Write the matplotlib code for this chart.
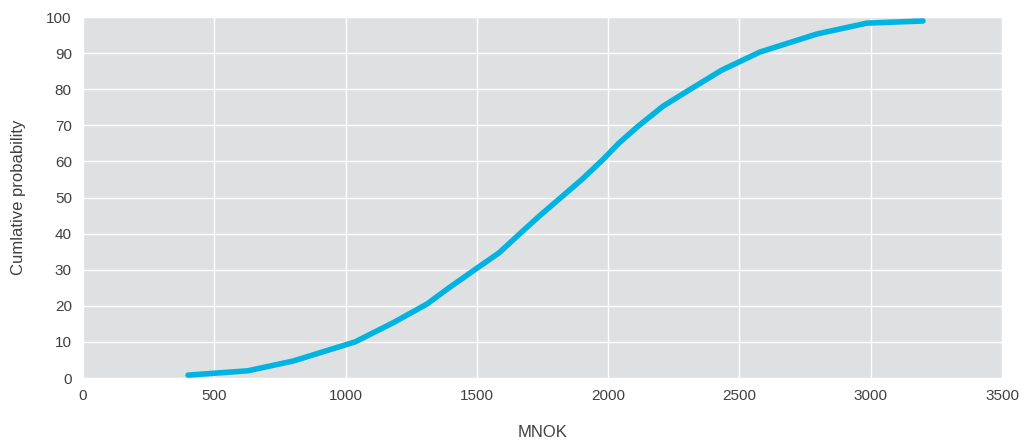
import matplotlib
matplotlib.use("Agg")
import matplotlib.pyplot as plt

# cumulative probability curve
mnok = [400, 628, 800, 1036, 1181, 1310, 1398, 1500, 1585, 1664, 1740, 1820, 1900, 1980, 2040, 2110, 2209, 2320, 2433, 2578, 2795, 2985, 3199]
prob = [0.8, 2, 4.7, 10, 15.3, 20.5, 25.2, 30.4, 34.7, 40, 45, 50, 55, 60.5, 65, 69.5, 75.3, 80.3, 85.3, 90.3, 95.3, 98.3, 98.9]
xticks = [0, 500, 1000, 1500, 2000, 2500, 3000, 3500]
yticks = [0, 10, 20, 30, 40, 50, 60, 70, 80, 90, 100]

plt.rcParams['font.family'] = ['Liberation Sans', 'DejaVu Sans']

fig = plt.figure(figsize=(10.27, 4.43), dpi=100)
ax = fig.add_axes([0.0808, 0.1467, 0.8949, 0.8149])
ax.set_facecolor('#dfe0e2')
ax.plot(mnok, prob, color='#00b4e1', linewidth=4, solid_capstyle='round', zorder=3)

ax.set_xlim(0, 3500)
ax.set_ylim(0, 100)
ax.set_xticks(xticks)
ax.set_yticks(yticks)
ax.grid(True, color='white', linewidth=1)
ax.set_axisbelow(True)
for s in ax.spines.values():
    s.set_visible(False)
ax.tick_params(length=0, labelsize=11, labelcolor='#404040', pad=8)

ax.set_xlabel('MNOK', fontsize=12, color='#404040', va='center')
ax.xaxis.set_label_coords(0.5, -0.152)
ax.set_ylabel('Cumlative probability', fontsize=12, color='#404040', va='center')
ax.yaxis.set_label_coords(-0.0707, 0.5)

fig.savefig('out.png', dpi=100)
